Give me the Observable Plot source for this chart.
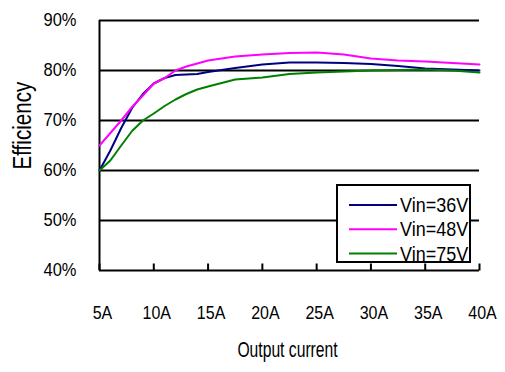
<!DOCTYPE html>
<html><head><meta charset="utf-8">
<script src="https://cdn.jsdelivr.net/npm/d3@7"></script>
<script src="https://cdn.jsdelivr.net/npm/@observablehq/plot@0.6"></script>
<style>body{margin:0;background:#fff} #chart svg{display:block}</style>
</head><body><div id="chart"></div>
<script>
// Output current (A)
const current = [5, 6, 7, 8, 9, 10, 11, 12, 13, 14, 15, 17.5, 20, 22.5, 25, 27.5, 30, 32.5, 35, 37.5, 40];
// Efficiency (%) per input voltage
const eff36 = [60, 64, 68.5, 72.5, 75.3, 77.4, 78.5, 79.1, 79.2, 79.3, 79.7, 80.5, 81.2, 81.6, 81.6, 81.5, 81.3, 80.9, 80.4, 80.2, 80];
const eff48 = [65, 67.5, 70, 72.7, 75, 77.4, 78.5, 80, 80.8, 81.4, 82, 82.8, 83.2, 83.5, 83.6, 83.2, 82.4, 82, 81.8, 81.5, 81.2];
const eff75 = [60, 62, 65, 67.9, 70, 71.4, 72.9, 74.2, 75.3, 76.2, 76.8, 78.2, 78.6, 79.3, 79.6, 79.8, 80, 80.1, 80.2, 80, 79.6];
const seriesNames = ["Vin=36V", "Vin=48V", "Vin=75V"];
const seriesColors = ["#000080", "#ff00ff", "#008000"];
const xTicks = [5, 10, 15, 20, 25, 30, 35, 40];
const yTicks = [40, 50, 60, 70, 80, 90];
const gridTicks = [50, 60, 70, 80, 90];
const xTitle = "Output current";
const yTitle = "Efficiency";

const rows = [];
[eff36, eff48, eff75].forEach((arr, s) => arr.forEach((v, i) => rows.push({x: current[i], y: v, s: seriesNames[s]})));

const tickUp = {draw(ctx) { ctx.moveTo(0, 0); ctx.lineTo(0, -7); }};

const chart = Plot.plot({
  width: 505, height: 372,
  marginLeft: 99, marginRight: 26, marginTop: 20, marginBottom: 102,
  style: {fontFamily: "'Liberation Sans', Arial, sans-serif", background: "#fff", color: "#000"},
  x: {domain: [5, 40], label: null},
  y: {domain: [40, 90], label: null},
  color: {domain: seriesNames, range: seriesColors},
  marks: [
    Plot.ruleY(gridTicks, {stroke: "#000", strokeWidth: 2}),
    Plot.ruleY([40], {stroke: "#000", strokeWidth: 2}),
    Plot.ruleX([5], {stroke: "#000", strokeWidth: 2}),
    Plot.dot(xTicks, {x: d => d, y: 40, symbol: tickUp, stroke: "#000", strokeWidth: 2, r: 3}),
    Plot.line(rows, {x: "x", y: "y", z: "s", stroke: "s", strokeWidth: 2}),
    Plot.axisY(yTicks, {tickSize: 0, tickPadding: 23, tickFormat: d => d + "%", fontSize: 16.5, label: null}),
    Plot.axisX(xTicks, {tickSize: 0, tickPadding: 35, tickFormat: d => d + "A", fontSize: 16, dx: 3, label: null}),
    Plot.text([xTitle], {frameAnchor: "bottom", lineAnchor: "top", dy: 71, dx: -2, fontSize: 15.7}),
    Plot.text([yTitle], {frameAnchor: "left", rotate: -90, dx: -77, dy: 24, fontSize: 20.6})
  ]
});
document.getElementById("chart").appendChild(chart);

const svg = d3.select(chart);
// legend
const lg = svg.append("g");
lg.append("rect").attr("x", 337).attr("y", 185).attr("width", 133).attr("height", 77)
  .attr("fill", "#fff").attr("stroke", "#000").attr("stroke-width", 2);
seriesNames.forEach((n, i) => {
  const y = 205 + i * 24.2;
  lg.append("line").attr("x1", 349).attr("x2", 397).attr("y1", y).attr("y2", y)
    .attr("stroke", seriesColors[i]).attr("stroke-width", 2);
  lg.append("text").attr("transform", `translate(400,${y})`).attr("dy", "0.35em")
    .attr("text-anchor", "start")
    .attr("font-size", 18).attr("fill", "#000").text(n);
});

// vertical stretch of the text glyphs, as in the reference
svg.selectAll("text").each(function() {
  const t = this.textContent;
  let k = null;
  if (/%$/.test(t)) k = 1.13;
  else if (/^\d+A$/.test(t)) k = 1.17;
  else if (t === xTitle) k = 1.4;
  else if (t === yTitle) k = 1.22;
  else if (/^Vin=/.test(t)) k = 1.15;
  if (!k) return;
  let tr = this.getAttribute("transform");
  if (!tr) {
    const x = this.getAttribute("x") || 0, y = this.getAttribute("y") || 0;
    tr = `translate(${x},${y})`;
    this.setAttribute("x", 0); this.setAttribute("y", 0);
  }
  this.setAttribute("transform", tr + ` scale(1,${k})`);
});
</script>
</body></html>
